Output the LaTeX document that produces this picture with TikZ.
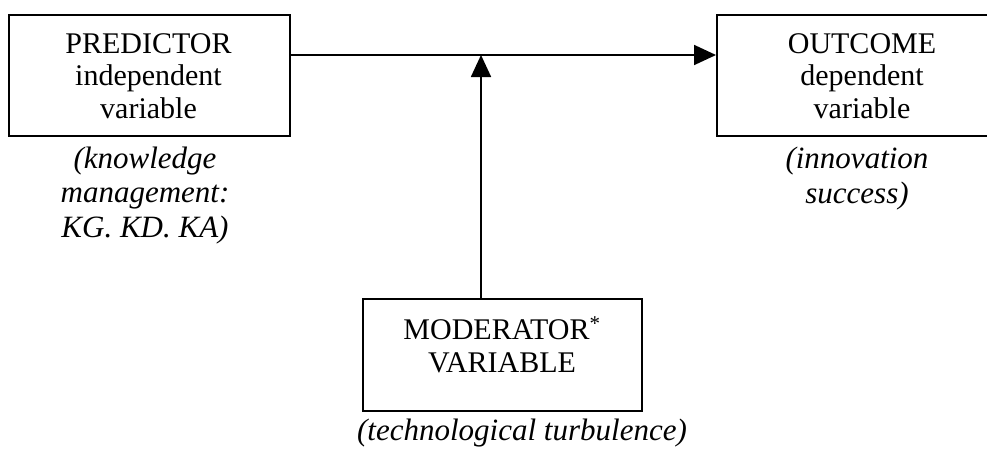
\documentclass[tikz,border=0pt]{standalone}
\usepackage{fontspec}
\setmainfont{Liberation Serif}
\usetikzlibrary{arrows.meta}
\begin{document}
\begin{tikzpicture}[x=1pt,y=-1pt,
  varbox/.style={draw, line width=1.6pt, minimum width=281pt, minimum height=121pt,
    inner sep=0pt, anchor=north west},
  % multi-line labels are placed by the baseline of their last line
  boxtext/.style={align=center, font=\fontsize{30}{32.5}\selectfont, anchor=base},
  note/.style={align=center, font=\fontsize{31}{34.5}\selectfont\itshape, anchor=base},
  link/.style={line width=1.8pt, -{Triangle[length=22pt,width=20pt]}}]
  \useasboundingbox (0,0) rectangle (987,455);
  \clip (0,0) rectangle (987,455);

  % boxes
  \node[varbox] (pred) at (8,14) {};
  \node[varbox, minimum width=292pt] (out) at (716,14) {};
  \node[varbox, minimum width=279pt, minimum height=112pt] (mod) at (362,298) {};

  % box labels
  \node[boxtext] (predT) at (148.5,118) {PREDICTOR\\independent\\variable};
  \node[boxtext] (outT) at (862,118) {OUTCOME\\dependent\\variable};
  \node[boxtext] (modT) at (502,372) {MODERATOR\textsuperscript{*}\\VARIABLE};

  % notes under the boxes
  \node[note] (predN) at (145,237) {(knowledge\\management:\\KG. KD. KA)};
  \node[note] (outN) at (857,203) {(innovation\\success)};
  \node[note] (modN) at (522,440) {(technological turbulence)};

  % connectors
  \coordinate (pR) at (pred.east |- 0,55);
  \coordinate (oL) at (out.west |- 0,55);
  \coordinate (hit) at (481,55);
  \draw[link] (pR) -- (oL);
  \draw[link] (mod.north -| hit) -- (hit);
\end{tikzpicture}
\end{document}
